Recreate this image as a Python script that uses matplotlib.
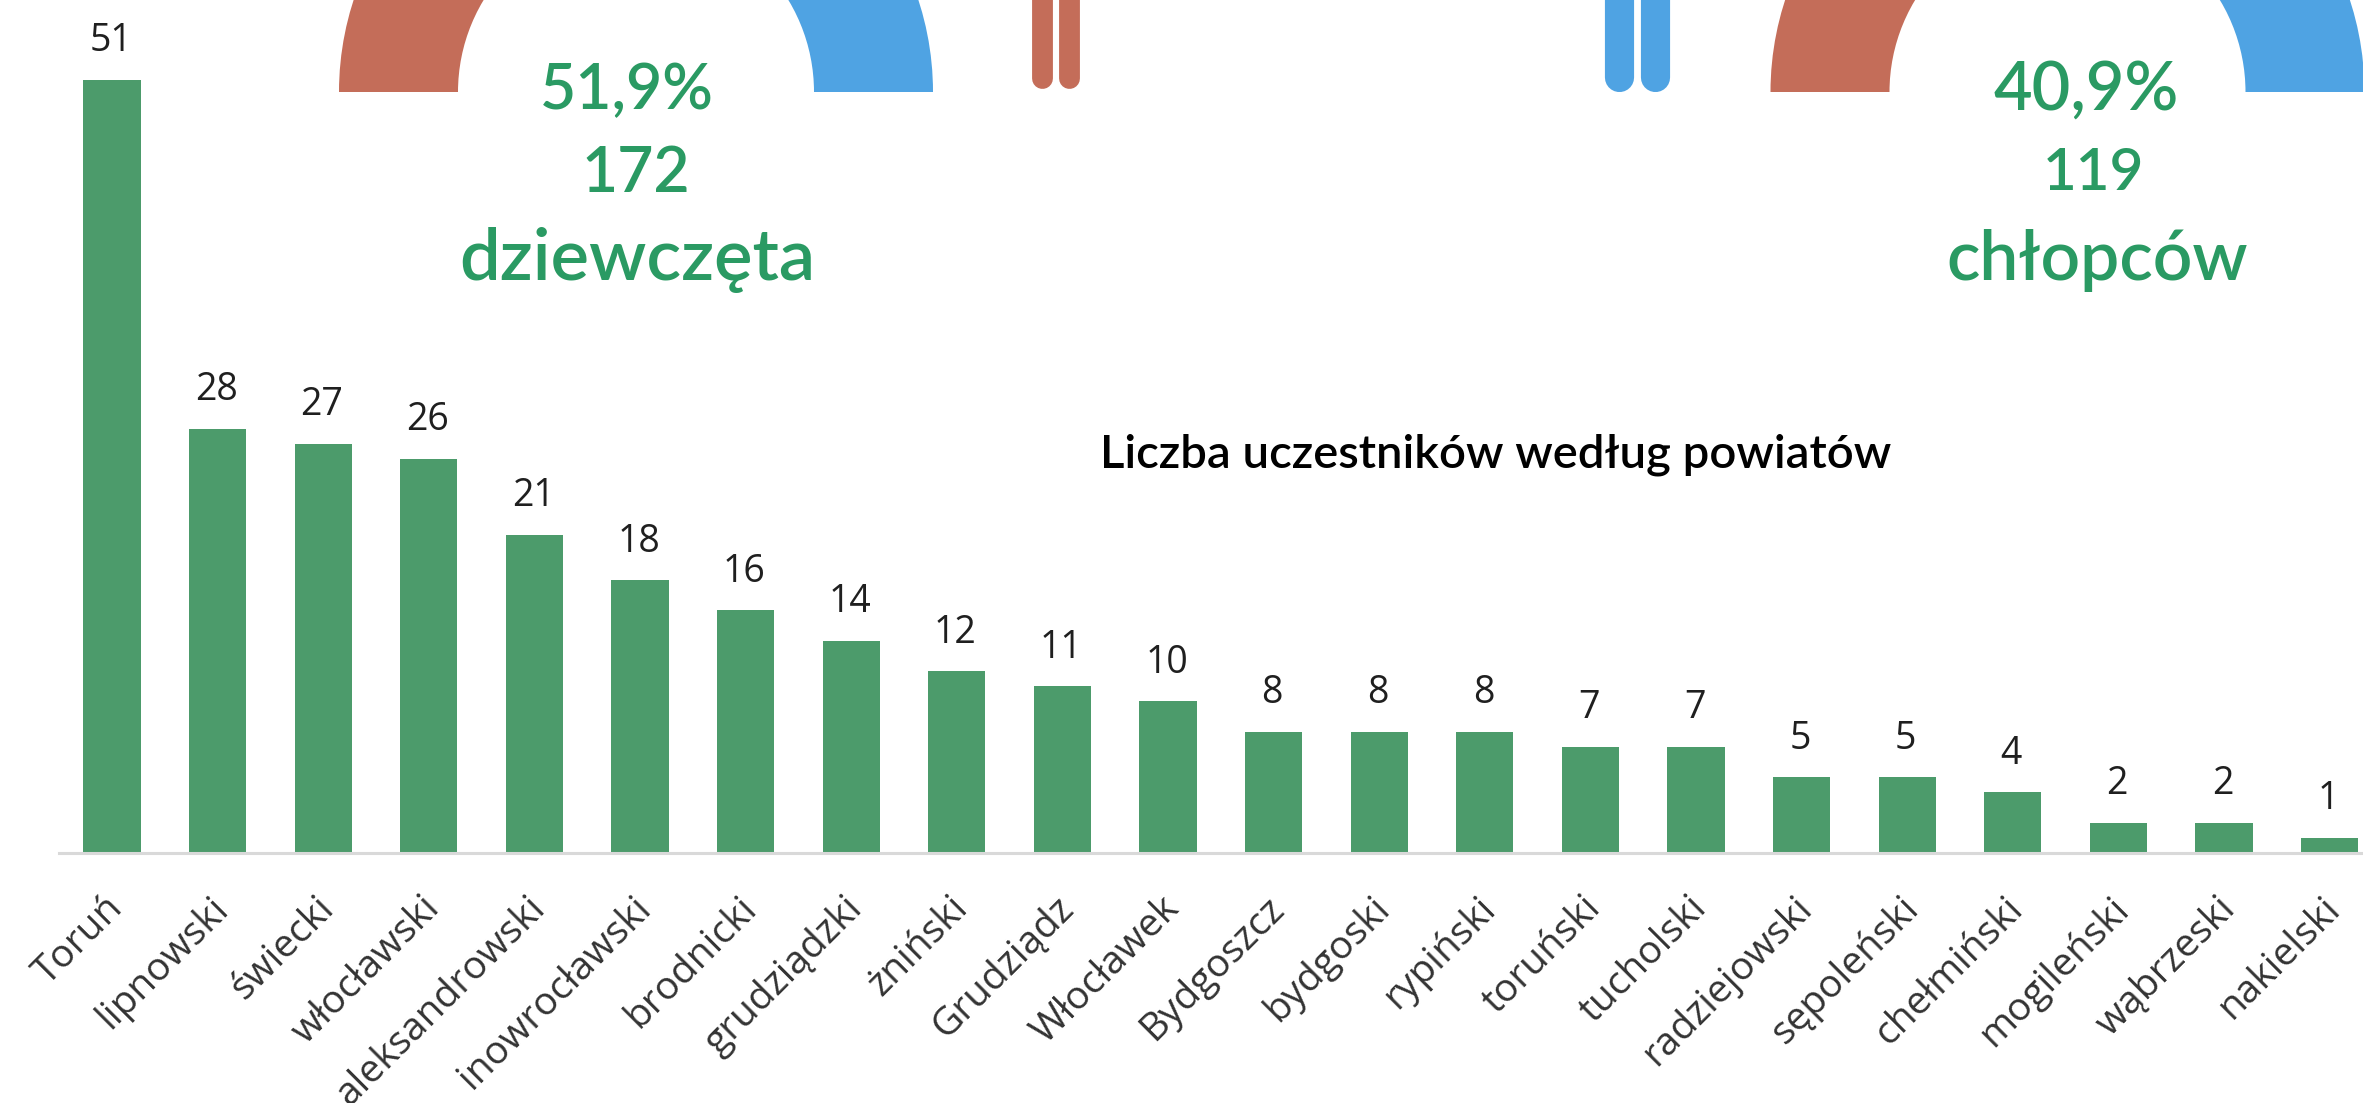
import matplotlib
matplotlib.use("Agg")
import matplotlib.pyplot as plt
from matplotlib.patches import Wedge
from matplotlib.transforms import ScaledTranslation

powiaty = ["Toruń", "lipnowski", "świecki", "włocławski", "aleksandrowski", "inowrocławski",
           "brodnicki", "grudziądzki", "żniński", "Grudziądz", "Włocławek", "Bydgoszcz",
           "bydgoski", "rypiński", "toruński", "tucholski", "radziejowski", "sępoleński",
           "chełmiński", "mogileński", "wąbrzeski", "nakielski"]
uczestnicy = [51, 28, 27, 26, 21, 18, 16, 14, 12, 11, 10, 8, 8, 8, 7, 7, 5, 5, 4, 2, 2, 1]

W, H = 2363, 1103
GREEN = "#2a9a63"
RED = "#c46d59"
BLUE = "#4fa3e3"

fig = plt.figure(figsize=(W / 100, H / 100), dpi=100, facecolor="white")

# bars
left, right, base = 59, W, 853
ax = fig.add_axes([left / W, (H - base) / H, (right - left) / W, base / H])
step = 105.6
ax.set_xlim((left - 112) / step, (right - 112) / step)
ax.set_ylim(0, base / 15.16)
ax.bar(range(len(powiaty)), uczestnicy, width=0.54, color="#4c9b6b")
for i, v in enumerate(uczestnicy):
    ax.annotate(str(v), (i, v), xytext=(-1, 14), textcoords="offset points", ha="center", va="bottom",
                fontsize=27, color="#1f1f1f", family="Open Sans")
for s in ["top", "left", "right"]:
    ax.spines[s].set_visible(False)
ax.spines["bottom"].set_color("#d9d9d9")
ax.spines["bottom"].set_linewidth(2.2)
ax.set_yticks([])
ax.set_xticks(range(len(powiaty)))
ax.set_xticklabels(powiaty, rotation=45, ha="right", va="top", rotation_mode="anchor",
                   fontsize=28, color="#333333", family="Open Sans")
ax.tick_params(axis="x", length=0, pad=26)
for lab in ax.get_xticklabels():
    lab.set_transform(lab.get_transform() + ScaledTranslation(-6 / 72, 0, fig.dpi_scale_trans))

# overlay in picture pixels for the infographic parts
deco = fig.add_axes([0, 0, 1, 1], facecolor="none")
deco.set_xlim(0, W)
deco.set_ylim(H, 0)
deco.axis("off")

for cx in [636, 2067.5]:
    deco.add_patch(Wedge((cx, 92), 297, 180, 270, width=119, color=RED, lw=0))
    deco.add_patch(Wedge((cx, 92), 297, 270, 360, width=119, color=BLUE, lw=0))

for x in [1042, 1069]:
    deco.plot([x, x], [-20, 78], color=RED, lw=15, solid_capstyle="round")
for x in [1619, 1655]:
    deco.plot([x, x], [-20, 77], color=BLUE, lw=21, solid_capstyle="round")

for x, y, s, size in [(627, 91, "51,9%", 45), (636, 174, "172", 45), (637, 260, "dziewczęta", 52),
                      (2086, 91, "40,9%", 48), (2093, 174, "119", 42), (2097, 260, "chłopców", 50)]:
    deco.text(x, y, s, ha="center", va="center", fontsize=size, color=GREEN, family="Lato", fontweight="semibold")

deco.text(1496, 455, "Liczba uczestników według powiatów", ha="center", va="center",
          fontsize=34, color="black", family="Lato", fontweight="semibold")

fig.savefig("out.png", dpi=100)
